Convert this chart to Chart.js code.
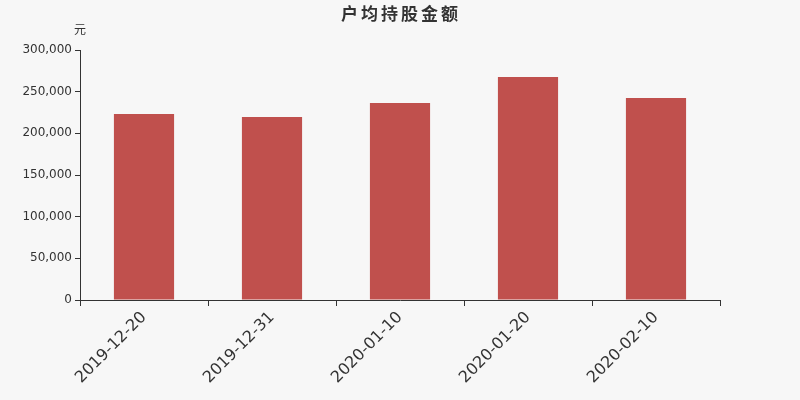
<!DOCTYPE html>
<html><head><meta charset="utf-8">
<script src="https://cdn.jsdelivr.net/npm/chart.js@4/dist/chart.umd.min.js"></script>
<style>html,body{margin:0;padding:0;background:#f7f7f7;}#wrap{width:800px;height:400px;}</style>
</head><body><div id="wrap"><canvas id="c" width="800" height="400"></canvas></div>
<script>
const titleText = '户均持股金额';
const unitText = '元';
const categories = ['2019-12-20','2019-12-31','2020-01-10','2020-01-20','2020-02-10'];
const values = [223200, 219600, 236400, 267600, 242400];

const textPlugin = {
  id: 'texts',
  afterDraw(chart){
    const ctx = chart.ctx;
    ctx.save();
    ctx.fillStyle = '#333';
    ctx.textAlign = 'center';
    ctx.textBaseline = 'middle';
    ctx.font = 'bold 17px "Noto Sans CJK SC", sans-serif';
    try { ctx.letterSpacing = '3px'; } catch(e) {}
    ctx.fillText(titleText, 401, 14);
    try { ctx.letterSpacing = '0px'; } catch(e) {}
    ctx.font = '12px "Noto Sans CJK SC", sans-serif';
    ctx.fillText(unitText, chart.chartArea.left, 29);
    ctx.restore();
  }
};

new Chart(document.getElementById('c'), {
  type: 'bar',
  data: { labels: categories, datasets: [{ data: values, backgroundColor: '#c0504d', barPercentage: 0.47, categoryPercentage: 1 }] },
  options: {
    responsive: false, animation: false,
    layout: { padding: { top: 50, right: 80, left: 0, bottom: 0 } },
    plugins: { legend: { display: false }, tooltip: { enabled: false } },
    scales: {
      x: {
        afterFit(s){ s.height = 100; },
        grid: { display: true, drawOnChartArea: false, offset: true, tickLength: 6, color: '#333', tickColor: '#333' },
        border: { color: '#333' },
        ticks: { color: '#333', font: { size: 16, family: 'DejaVu Sans, sans-serif' }, minRotation: 45, maxRotation: 45, padding: 2 }
      },
      y: {
        min: 0, max: 300000,
        afterFit(s){ s.width = 80; },
        grid: { display: true, drawOnChartArea: false, tickLength: 5, color: '#333', tickColor: '#333' },
        border: { color: '#333' },
        ticks: { stepSize: 50000, color: '#333', font: { size: 12, family: 'DejaVu Sans, sans-serif' }, padding: 3,
          callback: v => v.toLocaleString('en-US') }
      }
    }
  },
  plugins: [textPlugin]
});
</script></body></html>
